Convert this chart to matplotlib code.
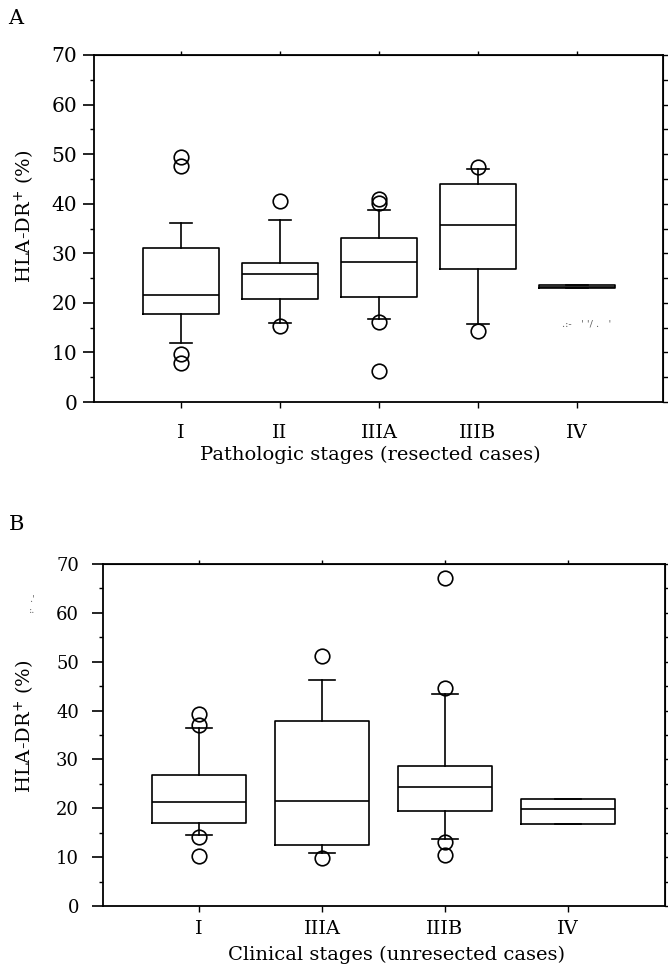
import matplotlib
matplotlib.use("Agg")
import matplotlib.pyplot as plt
from matplotlib.ticker import MultipleLocator

plt.rcParams['font.family'] = ['DejaVu Serif']

# ---------------- Panel A: pathologic stages (resected cases) ----------------
stages_a = ["I", "II", "IIIA", "IIIB", "IV"]
q1_a = [17.8, 20.7, 21.2, 26.8, 22.9]
med_a = [21.5, 25.8, 28.2, 35.8, 23.2]
q3_a = [31.0, 28.0, 33.1, 43.9, 23.7]
whislo_a = [12.0, 15.9, 16.8, 15.8, 22.9]
whishi_a = [36.1, 36.7, 38.7, 47.0, 23.7]
fliers_a = [[49.4, 47.7, 9.7, 7.8], [40.5, 15.3], [41.0, 40.1, 16.2, 6.3],
            [47.4, 14.3], []]

# ---------------- Panel B: clinical stages (unresected cases) ----------------
stages_b = ["I", "IIIA", "IIIB", "IV"]
q1_b = [17.0, 12.4, 19.5, 16.8]
med_b = [21.3, 21.5, 24.4, 19.8]
q3_b = [26.8, 37.9, 28.7, 21.9]
whislo_b = [14.5, 10.9, 13.7, 16.8]
whishi_b = [36.4, 46.3, 43.3, 21.9]
fliers_b = [[39.3, 37.0, 14.1, 10.3], [51.1, 9.9], [67.1, 44.6, 13.0, 10.5], []]

ylabel = "HLA-DR$^{+}$ (%)"

fig = plt.figure(figsize=(6.68, 9.73), dpi=100)


def draw_panel(rect, stages, q1, med, q3, lo, hi, fl, xlim, width, capw,
               ytick_size, ytick_pad, xtick_pad, xlabel, xlabel_y, xlabel_x):
    ax = fig.add_axes(rect)
    stats = [dict(label=s, q1=a, med=m, q3=b, whislo=l, whishi=h, fliers=f)
             for s, a, m, b, l, h, f in zip(stages, q1, med, q3, lo, hi, fl)]
    pos = list(range(1, len(stages) + 1))
    lw = 1.2
    ax.bxp(stats, positions=pos, widths=width, capwidths=capw, showfliers=True,
           boxprops=dict(color='k', linewidth=lw),
           medianprops=dict(color='k', linewidth=lw),
           whiskerprops=dict(color='k', linewidth=lw),
           capprops=dict(color='k', linewidth=lw),
           flierprops=dict(marker='o', markerfacecolor='none',
                           markeredgecolor='k', markersize=10.5,
                           markeredgewidth=1.2, linestyle='none'))
    ax.set_xlim(*xlim)
    ax.set_ylim(0, 70)
    ax.yaxis.set_major_locator(MultipleLocator(10))
    ax.yaxis.set_minor_locator(MultipleLocator(5))
    ax.tick_params(axis='y', which='major', direction='out', length=8,
                   width=1.2, labelsize=ytick_size, pad=ytick_pad)
    ax.tick_params(axis='y', which='minor', direction='out', length=3, width=1.0)
    ax.tick_params(axis='x', which='major', direction='out', length=4,
                   width=1.0, labelsize=14, pad=xtick_pad)
    for sp in ax.spines.values():
        sp.set_linewidth(1.3)
    # right-side ticks every 5 units
    sec_y = ax.secondary_yaxis('right')
    sec_y.set_yticks(list(range(0, 71, 5)))
    sec_y.set_yticklabels([])
    sec_y.tick_params(direction='out', length=4, width=1.0)
    # top ticks at each stage position
    sec_x = ax.secondary_xaxis('top')
    sec_x.set_xticks(pos)
    sec_x.set_xticklabels([])
    sec_x.tick_params(direction='out', length=3, width=1.0)
    ax.set_xlabel(xlabel, fontsize=14)
    ax.xaxis.set_label_coords(xlabel_x, xlabel_y)
    return ax


# Panel A
axA = draw_panel([94 / 668, 1 - 402 / 973, 569 / 668, 347 / 973],
                 stages_a, q1_a, med_a, q3_a, whislo_a, whishi_a, fliers_a,
                 xlim=(0.12, 5.87), width=0.76, capw=0.23,
                 ytick_size=14.5, ytick_pad=4, xtick_pad=12,
                 xlabel="Pathologic stages (resected cases)",
                 xlabel_y=-0.125, xlabel_x=0.485)
fig.text(25 / 668, 1 - 216 / 973, ylabel, rotation=90, ha='center',
         va='center', fontsize=14)
fig.text(16 / 668, 1 - 18 / 973, "A", ha='center', va='center', fontsize=15)
axA.text(5.1, 15.8, ".:-   ' '/ .   '", fontsize=7, color='0.35',
         ha='center', va='center')

# Panel B
axB = draw_panel([102.7 / 668, 1 - 906 / 973, 562.3 / 668, 342 / 973],
                 stages_b, q1_b, med_b, q3_b, whislo_b, whishi_b, fliers_b,
                 xlim=(0.217, 4.79), width=0.77, capw=0.21,
                 ytick_size=13, ytick_pad=9, xtick_pad=6,
                 xlabel="Clinical stages (unresected cases)",
                 xlabel_y=-0.115, xlabel_x=0.523)
fig.text(25 / 668, 1 - 726 / 973, ylabel, rotation=90, ha='center',
         va='center', fontsize=14)
fig.text(17 / 668, 1 - 525 / 973, "B", ha='center', va='center', fontsize=15)
fig.text(32 / 668, 1 - 605 / 973, ".'\n:.", fontsize=7, color='0.4',
         ha='center', va='center')

fig.savefig("out.png", dpi=100, facecolor='white')
